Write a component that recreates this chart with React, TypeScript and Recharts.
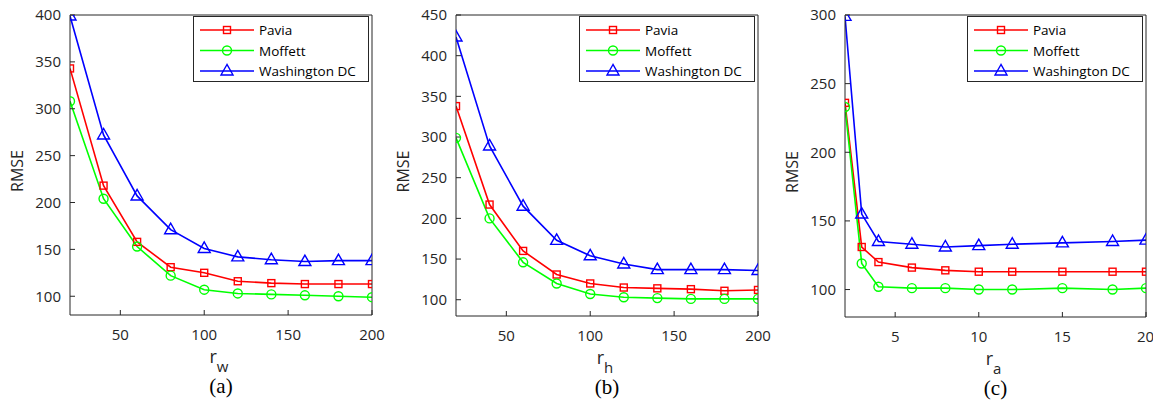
import { Legend, Line, LineChart, XAxis, YAxis } from "recharts";

// panel (a): r_w
const rwValues = [20, 40, 60, 80, 100, 120, 140, 160, 180, 200];
const paviaA = [343, 218, 158, 131, 125, 116, 114, 113, 113, 113];
const moffettA = [308, 204, 153, 122, 107, 103, 102, 101, 100, 99];
const washingtonA = [399, 272, 207, 171, 151, 142, 139, 137, 138, 138];

// panel (b): r_h
const rhValues = [20, 40, 60, 80, 100, 120, 140, 160, 180, 200];
const paviaB = [338, 217, 160, 131, 120, 115, 114, 113, 111, 112];
const moffettB = [299, 200, 146, 120, 107, 103, 102, 101, 101, 101];
const washingtonB = [423, 289, 215, 173, 154, 144, 137, 137, 137, 136];

// panel (c): r_a
const raValues = [2, 3, 4, 6, 8, 10, 12, 15, 18, 20];
const paviaC = [236, 131, 120, 116, 114, 113, 113, 113, 113, 113];
const moffettC = [233, 119, 102, 101, 101, 100, 100, 101, 100, 101];
const washingtonC = [299, 155, 135, 133, 131, 132, 133, 134, 135, 136];

const xTicksAB = [50, 100, 150, 200];
const xTicksC = [5, 10, 15, 20];
const yTicksA = [100, 150, 200, 250, 300, 350, 400];
const yTicksB = [100, 150, 200, 250, 300, 350, 400, 450];
const yTicksC = [100, 150, 200, 250, 300];

const seriesNames = ["Pavia", "Moffett", "Washington DC"];
const seriesKeys = ["pavia", "moffett", "washington"];
const seriesColors = ["#ff0000", "#00ff00", "#0000ff"];
const seriesShapes = ["square", "circle", "triangle"];

const AXIS = "#262626";
const SANS = "'Open Sans', 'Noto Sans', sans-serif";

function MarkerShape({ cx, cy, color, shape }: any) {
  if (cx == null || cy == null) return null;
  if (shape === "square")
    return <rect x={cx - 3.5} y={cy - 3.5} width={7} height={7} fill="none" stroke={color} strokeWidth={1.4} />;
  if (shape === "circle")
    return <circle cx={cx} cy={cy} r={4.5} fill="none" stroke={color} strokeWidth={1.4} />;
  return (
    <polygon
      points={`${cx},${cy - 6.5} ${cx - 6},${cy + 4} ${cx + 6},${cy + 4}`}
      fill="none"
      stroke={color}
      strokeWidth={1.4}
    />
  );
}

function LegendBox() {
  return (
    <div
      style={{
        border: "1px solid #262626",
        background: "#fff",
        width: 176,
        height: 66,
        boxSizing: "border-box",
        fontFamily: SANS,
        fontSize: 13,
        color: "#000",
      }}
    >
      <svg width={174} height={64}>
        {seriesNames.map((name, i) => {
          const y = 13 + i * 20.5;
          return (
            <g key={name}>
              <line x1={6} x2={60} y1={y} y2={y} stroke={seriesColors[i]} strokeWidth={1.6} />
              <MarkerShape cx={33} cy={y} color={seriesColors[i]} shape={seriesShapes[i]} />
              <text x={65} y={y + 5} fontSize={13.5} fontFamily={SANS} fill="#000">
                {name}
              </text>
            </g>
          );
        })}
      </svg>
    </div>
  );
}

function Panel({
  left,
  width,
  margin,
  xs,
  pavia,
  moffett,
  washington,
  xDomain,
  xTicks,
  yDomain,
  yTicks,
  sub,
  caption,
}: any) {
  const data = xs.map((x: number, i: number) => ({
    x,
    pavia: pavia[i],
    moffett: moffett[i],
    washington: washington[i],
  }));
  const plotRight = width - margin.right;
  // axes are 1px thick boxes, so the margins are 1px smaller than the plot edges
  const m = { top: margin.top - 1, left: margin.left - 1, right: margin.right - 1, bottom: margin.bottom - 1 };
  return (
    <div style={{ position: "absolute", left, top: 0 }}>
      <LineChart width={width} height={406} data={data} margin={m}>
        <XAxis
          dataKey="x"
          type="number"
          domain={xDomain}
          ticks={xTicks}
          allowDataOverflow
          height={1}
          tickSize={-5}
          tickMargin={19}
          stroke={AXIS}
          tick={{ fill: AXIS, fontSize: 15, fontFamily: SANS }}
          label={{
            content: (p: any) => {
              const vb = p.viewBox;
              const cx = vb.x + vb.width / 2;
              return (
                <g>
                  <text x={cx - 2} y={vb.y + 48} textAnchor="middle" fill={AXIS} fontFamily={SANS} fontSize={18}>
                    r
                    <tspan dy={9} fontSize={15}>
                      {sub}
                    </tspan>
                  </text>
                  <text x={cx} y={vb.y + 78} textAnchor="middle" fill="#000" fontFamily="'Liberation Serif', serif" fontSize={21}>
                    {caption}
                  </text>
                </g>
              );
            },
          }}
        />
        <XAxis
          xAxisId="top"
          dataKey="x"
          orientation="top"
          type="number"
          domain={xDomain}
          ticks={xTicks}
          allowDataOverflow
          height={1}
          tickSize={-5}
          tick={false}
          stroke={AXIS}
        />
        <YAxis
          type="number"
          domain={yDomain}
          ticks={yTicks}
          allowDataOverflow
          width={1}
          tickSize={-5}
          tickMargin={14}
          stroke={AXIS}
          tick={{ fill: AXIS, fontSize: 15, fontFamily: SANS }}
          label={{
            content: (p: any) => {
              const vb = p.viewBox;
              const x = vb.x + vb.width - 53;
              const y = vb.y + vb.height / 2 + 6;
              return (
                <text
                  x={x}
                  y={y}
                  transform={`rotate(-90 ${x} ${y})`}
                  textAnchor="middle"
                  dominantBaseline="central"
                  fill={AXIS}
                  fontFamily={SANS}
                  fontSize={16}
                >
                  RMSE
                </text>
              );
            },
          }}
        />
        <YAxis
          yAxisId="right"
          orientation="right"
          type="number"
          domain={yDomain}
          ticks={yTicks}
          allowDataOverflow
          width={1}
          tickSize={-5}
          tick={false}
          stroke={AXIS}
        />
        {seriesKeys.map((k, i) => (
          <Line
            key={k}
            dataKey={k}
            name={seriesNames[i]}
            type="linear"
            stroke={seriesColors[i]}
            strokeWidth={1.6}
            isAnimationActive={false}
            activeDot={false}
            dot={(props: any) => (
              <MarkerShape key={`${k}-${props.index}`} cx={props.cx} cy={props.cy} color={seriesColors[i]} shape={seriesShapes[i]} />
            )}
          />
        ))}
        <Legend
          layout="vertical"
          align="center"
          verticalAlign="middle"
          content={() => <LegendBox />}
          wrapperStyle={{ top: 16, left: plotRight - 179, width: 176, height: 66 }}
        />
      </LineChart>
    </div>
  );
}

export default function App() {
  return (
    <div style={{ position: "absolute", left: 0, top: 0, width: 1153, height: 406, background: "#fff" }}>
      <Panel
        left={0}
        width={390}
        margin={{ top: 15, left: 70, right: 18, bottom: 91 }}
        xs={rwValues}
        pavia={paviaA}
        moffett={moffettA}
        washington={washingtonA}
        xDomain={[20, 200]}
        xTicks={xTicksAB}
        yDomain={[80, 400]}
        yTicks={yTicksA}
        sub="w"
        caption="(a)"
      />
      <Panel
        left={385}
        width={390}
        margin={{ top: 15, left: 71, right: 17, bottom: 90 }}
        xs={rhValues}
        pavia={paviaB}
        moffett={moffettB}
        washington={washingtonB}
        xDomain={[20, 200]}
        xTicks={xTicksAB}
        yDomain={[80, 450]}
        yTicks={yTicksB}
        sub="h"
        caption="(b)"
      />
      <Panel
        left={770}
        width={383}
        margin={{ top: 15, left: 75, right: 7, bottom: 89 }}
        xs={raValues}
        pavia={paviaC}
        moffett={moffettC}
        washington={washingtonC}
        xDomain={[2, 20]}
        xTicks={xTicksC}
        yDomain={[80, 300]}
        yTicks={yTicksC}
        sub="a"
        caption="(c)"
      />
    </div>
  );
}
